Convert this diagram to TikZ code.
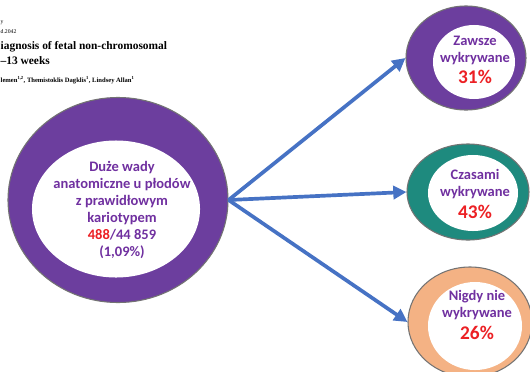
\documentclass[tikz,border=0pt]{standalone}
\usepackage{fontspec}
\setmainfont{Carlito}
\newfontfamily\paperfont{Liberation Serif}
\usetikzlibrary{shapes.geometric,arrows.meta}
\definecolor{ringpurple}{RGB}{108,62,158}
\definecolor{ringteal}{RGB}{30,138,126}
\definecolor{ringpeach}{RGB}{244,178,132}
\definecolor{txtpurple}{RGB}{112,48,160}
\definecolor{txtred}{RGB}{236,32,36}
\definecolor{arrowblue}{RGB}{70,114,196}
\begin{document}
\begin{tikzpicture}[x=0.04cm,y=-0.04cm,
  ring/.style={ellipse,draw=black!55,line width=1.2pt,inner sep=0pt},
  hole/.style={ellipse,fill=white,inner sep=0pt},
  lbl/.style={align=center,text=txtpurple,font=\bfseries\fontsize{16.5}{19.5}\selectfont},
  link/.style={draw=arrowblue,line width=4.2pt,-{Triangle[length=15pt,width=15pt]}}]
\clip (0,0) rectangle (530,371);
\fill[white] (0,0) rectangle (530,371);

% paper header behind the diagram
\node[anchor=west,inner sep=0pt,font=\paperfont\fontsize{6.5}{7}\selectfont] (hdra) at (0.5,23) {y};
\node[anchor=west,inner sep=0pt,font=\paperfont\fontsize{6.5}{7}\selectfont] (hdrb) at (0.5,32) {d.2042};
\node[anchor=west,inner sep=0pt,font=\paperfont\bfseries\fontsize{13}{14}\selectfont] (title1) at (0.5,47) {iagnosis of fetal non-chromosomal};
\node[anchor=west,inner sep=0pt,font=\paperfont\bfseries\fontsize{13}{14}\selectfont] (title2) at (0.5,61) {–13 weeks};
\node[anchor=west,inner sep=0pt,font=\paperfont\bfseries\fontsize{7.5}{8}\selectfont] (authors) at (0.5,80)
  {lemen\textsuperscript{1,2}, Themistoklis Dagklis\textsuperscript{1}, Lindsey Allan\textsuperscript{1}};

% big ring
\node[ring,fill=ringpurple,minimum width=8.8cm,minimum height=8.2cm] (big) at (118,200) {};
\node[hole,minimum width=6.72cm,minimum height=5.48cm] (bighole) at (116,209) {};
\node[lbl] (bigtext) at (122,210) {Duże wady\\anatomiczne u płodów\\z prawidłowym\\kariotypem\\{\color{txtred}488}/44 859\\(1,09\%)};

% small rings
\node[ring,fill=ringpurple,minimum width=4.8cm,minimum height=4.16cm] (zaw) at (466,58) {};
\node[hole,minimum width=3.28cm,minimum height=2.96cm] (zawhole) at (474,62) {};
\node[lbl] (zawtext) at (475,60) {Zawsze\\wykrywane\\[5pt]{\fontsize{22}{24}\selectfont\color{txtred}31\%}};

\node[ring,fill=ringteal,minimum width=4.88cm,minimum height=3.84cm] (cza) at (468,192) {};
\node[hole,minimum width=3.6cm,minimum height=3.04cm] (czahole) at (473,193) {};
\node[lbl] (czatext) at (475,194) {Czasami\\wykrywane\\[5pt]{\fontsize{22}{24}\selectfont\color{txtred}43\%}};

\node[ring,fill=ringpeach,minimum width=4.96cm,minimum height=4.4cm] (nig) at (470,322) {};
\node[hole,minimum width=3.76cm,minimum height=3.52cm] (nighole) at (475,326) {};
\node[lbl] (nigtext) at (477,315) {Nigdy nie\\wykrywane\\[5pt]{\fontsize{22}{24}\selectfont\color{txtred}26\%}};

% arrows
\draw[link] (big.east) -- (zaw.west);
\draw[link] (big.east) -- (cza.west);
\draw[link] (big.east) -- (nig.west);

\end{tikzpicture}
\end{document}
